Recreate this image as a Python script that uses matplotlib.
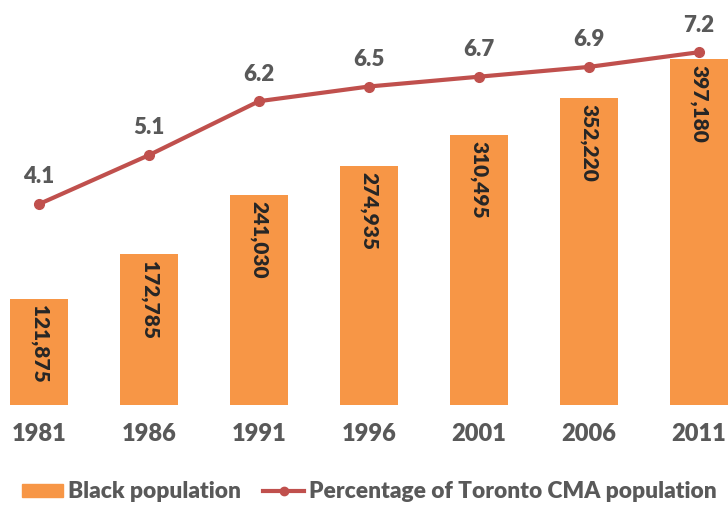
import matplotlib.pyplot as plt
from matplotlib.lines import Line2D
from matplotlib.patches import Patch

years = ["1981", "1986", "1991", "1996", "2001", "2006", "2011"]
black_pop = [121875, 172785, 241030, 274935, 310495, 352220, 397180]
pct_cma = [4.1, 5.1, 6.2, 6.5, 6.7, 6.9, 7.2]

bar_color = "#F79646"
line_color = "#C0504D"
gray = "#595959"
fnt = ["Lato", "DejaVu Sans"]

fig = plt.figure(figsize=(7.28, 5.05), dpi=100)
# plot area is wider than the image (chart was cropped on both sides)
ax = fig.add_axes([-16 / 728, 100 / 505, 770 / 728, 392 / 505])
x = list(range(len(years)))

ax.bar(x, black_pop, width=0.53, color=bar_color)
ax.set_xlim(-0.5, len(years) - 0.5)
ax.set_ylim(0, 450000)
for xi, v in zip(x, black_pop):
    ax.text(xi, v - 7000, f"{v:,}", rotation=270, ha="center", va="top",
            color="#262626", fontsize=15, fontweight="heavy", family=fnt)

ax2 = ax.twinx()
ax2.plot(x, pct_cma, color=line_color, lw=3, marker="o", ms=7)
ax2.set_ylim(0, 8)
for xi, v in zip(x, pct_cma):
    ax2.annotate(f"{v}", (xi, v), xytext=(0, 12), textcoords="offset points",
                 ha="center", va="bottom", color=gray, fontsize=16,
                 fontweight="heavy", family=fnt)

for a in (ax, ax2):
    for s in a.spines.values():
        s.set_visible(False)
    a.set_yticks([])
ax.tick_params(axis="x", length=0, pad=13)
ax.set_xticks(x)
ax.set_xticklabels(years, color=gray, fontsize=17, fontweight="heavy", family=fnt)

handles = [Patch(color=bar_color),
           Line2D([0], [0], color=line_color, lw=3, marker="o", ms=6)]
fig.legend(handles, ["Black population", "Percentage of Toronto CMA population"],
           loc="center left", bbox_to_anchor=(22 / 728, 13 / 505), ncol=2,
           frameon=False, borderpad=0, borderaxespad=0,
           handlelength=1.8, handleheight=0.5, handletextpad=0.2, columnspacing=1.0,
           prop={"family": fnt, "weight": "heavy", "size": 16.4}, labelcolor=gray)

fig.savefig("out.png", dpi=100)
